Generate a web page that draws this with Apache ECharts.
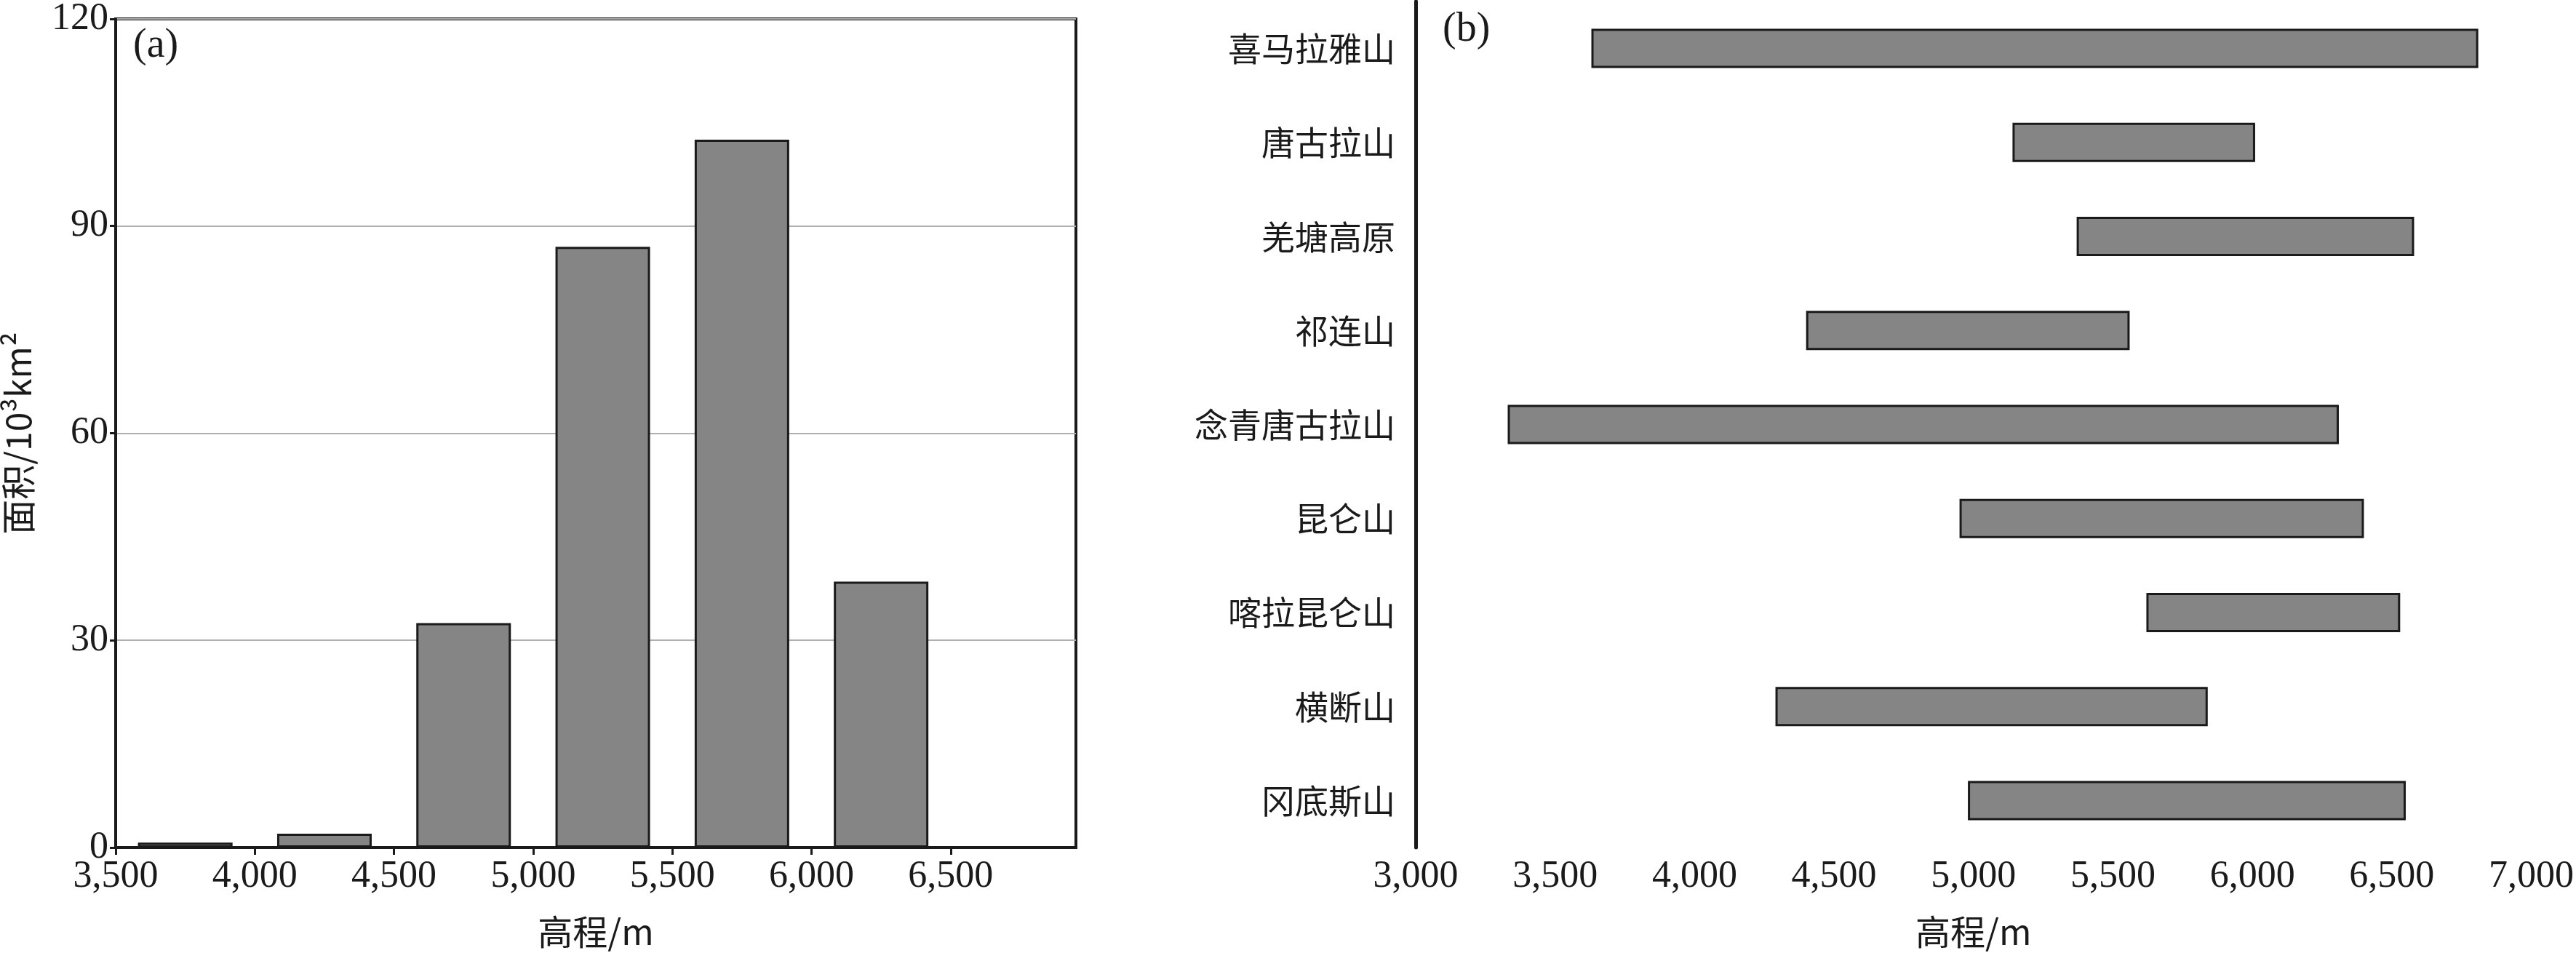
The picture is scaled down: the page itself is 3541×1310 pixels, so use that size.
<!DOCTYPE html>
<html>
<head>
<meta charset="utf-8">
<script src="https://cdn.jsdelivr.net/npm/echarts@6/dist/echarts.min.js"></script>
<style>
  html, body { margin: 0; padding: 0; background: #fff; }
  #chart { width: 3541px; height: 1310px; }
</style>
</head>
<body>
<div id="chart"></div>
<script>
// data (a): area per elevation band
const bandCenters = [3750, 4250, 4750, 5250, 5750, 6250];
const bandArea = [0.7, 2, 32.5, 87, 102.5, 38.5];

// data (b): elevation ranges of mountains
const mountains = ['喜马拉雅山', '唐古拉山', '羌塘高原', '祁连山', '念青唐古拉山', '昆仑山', '喀拉昆仑山', '横断山', '冈底斯山'];
const rangeLow = [3630, 5140, 5370, 4400, 3330, 4950, 5620, 4290, 4980];
const rangeHigh = [6810, 6010, 6580, 5560, 6310, 6400, 6530, 5840, 6550];

const font = '"Liberation Serif", "Noto Sans CJK SC", serif';
const cjk = '"Noto Sans CJK SC", "Liberation Serif", serif';
const black = '#1a1a1a';
const barFill = '#858585';

const chart = echarts.init(document.getElementById('chart'));

const axisText = { color: black, fontFamily: font, fontSize: 52 };

chart.setOption({
    animation: false,
    backgroundColor: '#fff',
    title: [
        { text: '(a)', left: 178, top: 30, textStyle: { fontFamily: font, fontSize: 56, fontWeight: 'normal', color: black } },
        { text: '(b)', left: 1978, top: 8, textStyle: { fontFamily: font, fontSize: 56, fontWeight: 'normal', color: black } }
    ],
    grid: [
        { left: 151, right: 2062, top: 11, bottom: 134, show: true, borderColor: black, borderWidth: 4 },
        { left: 1946, right: 57, top: 2, bottom: 138 }
    ],
    xAxis: [
        {
            gridIndex: 0, type: 'value', min: 3500, max: 6950, interval: 500,
            name: '高程/m', nameLocation: 'middle', nameGap: 92,
            nameTextStyle: { fontFamily: cjk, fontSize: 48, color: black },
            axisLine: { lineStyle: { color: black, width: 4 } },
            axisTick: { length: 10, lineStyle: { color: black, width: 3 } },
            axisLabel: Object.assign({ margin: 14, showMaxLabel: false }, axisText),
            splitLine: { show: false }
        },
        {
            gridIndex: 1, type: 'value', min: 3000, max: 7000, interval: 500,
            name: '高程/m', nameLocation: 'middle', nameGap: 92,
            nameTextStyle: { fontFamily: cjk, fontSize: 48, color: black },
            axisLine: { lineStyle: { color: black, width: 5 } },
            axisTick: { length: 12, lineStyle: { color: black, width: 3 } },
            axisLabel: Object.assign({ margin: 14 }, axisText),
            splitLine: { show: false }
        }
    ],
    yAxis: [
        {
            gridIndex: 0, type: 'value', min: 0, max: 120, interval: 30,
            name: '面积/10³km²', nameLocation: 'middle', nameGap: 110,
            nameTextStyle: { fontFamily: cjk, fontSize: 48, color: black },
            axisLine: { lineStyle: { color: black, width: 4 } },
            axisTick: { length: 8, lineStyle: { color: black, width: 3 } },
            axisLabel: Object.assign({ margin: 10 }, axisText),
            splitLine: { lineStyle: { color: '#b0b0b0', width: 2 } }
        },
        {
            gridIndex: 1, type: 'category', data: mountains, inverse: true,
            axisLine: { lineStyle: { color: black, width: 5 } },
            axisTick: { length: 12, lineStyle: { color: black, width: 3 } },
            axisLabel: { color: black, fontFamily: cjk, fontSize: 46, margin: 28 },
            splitLine: { show: false }
        }
    ],
    series: [
        {
            type: 'bar', xAxisIndex: 0, yAxisIndex: 0,
            data: bandCenters.map((x, i) => [x, bandArea[i]]),
            barWidth: 130,
            itemStyle: { color: barFill, borderColor: black, borderWidth: 3 }
        },
        {
            type: 'bar', xAxisIndex: 1, yAxisIndex: 1, stack: 'range',
            data: rangeLow, barWidth: 54,
            itemStyle: { color: 'transparent', borderWidth: 0 },
            silent: true
        },
        {
            type: 'bar', xAxisIndex: 1, yAxisIndex: 1, stack: 'range',
            data: rangeHigh.map((h, i) => h - rangeLow[i]), barWidth: 54,
            itemStyle: { color: barFill, borderColor: black, borderWidth: 3 }
        }
    ]
});
</script>
</body>
</html>
